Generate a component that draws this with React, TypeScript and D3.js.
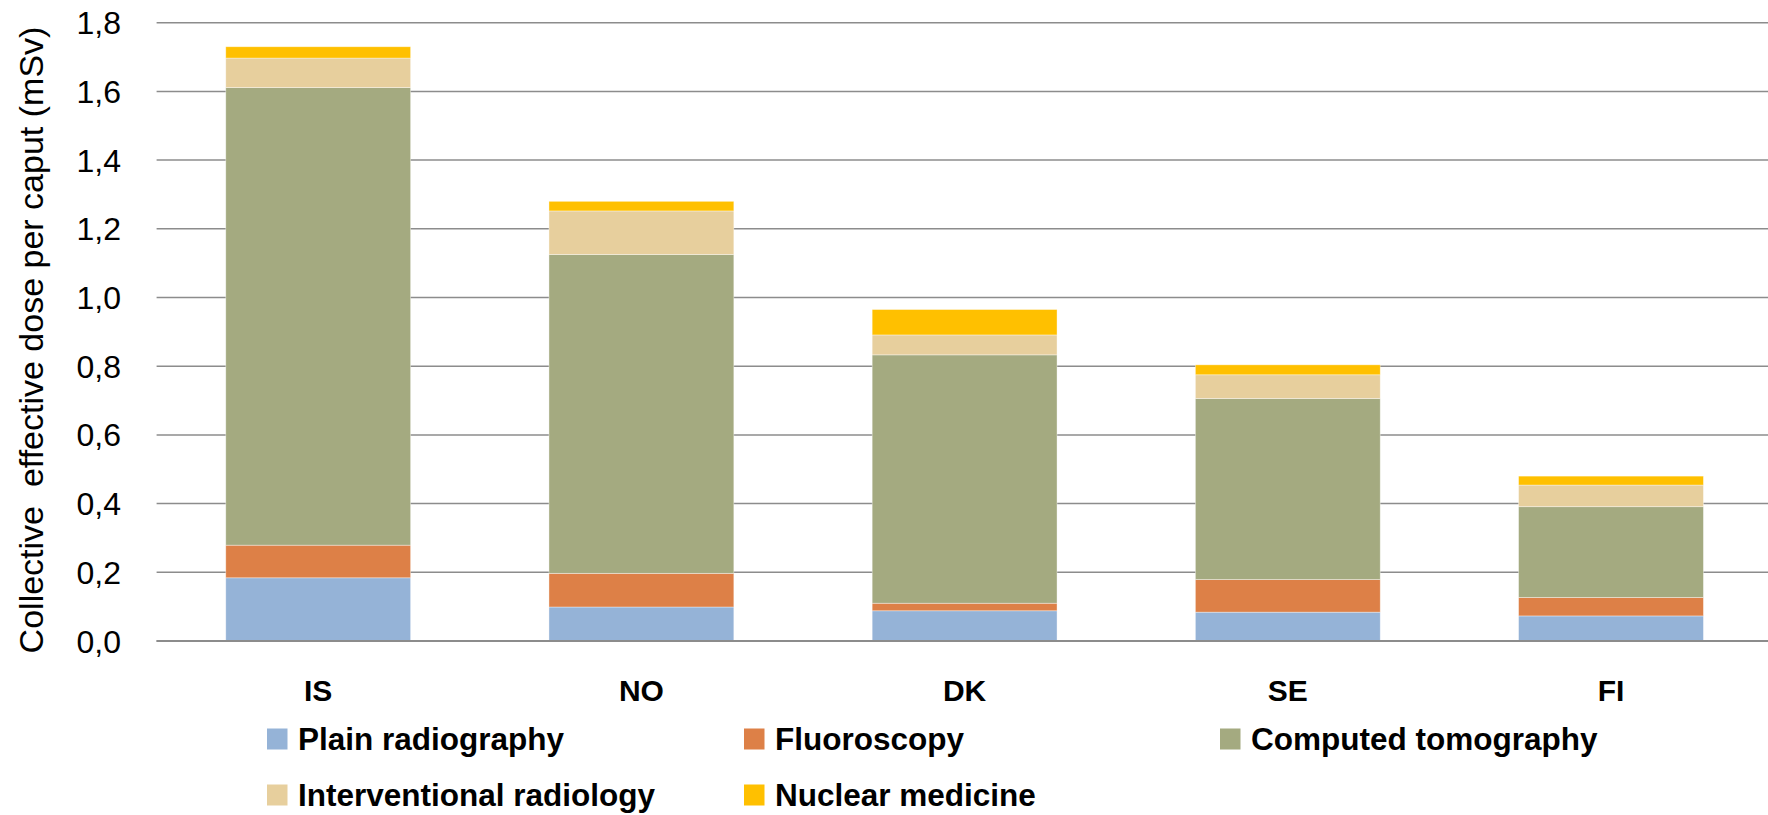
import React from "react";
import * as d3 from "d3";

const countries = ["IS", "NO", "DK", "SE", "FI"];
const seriesNames = [
  "Plain radiography",
  "Fluoroscopy",
  "Computed tomography",
  "Interventional radiology",
  "Nuclear medicine",
];
const plainRadiography = [0.184, 0.099, 0.088, 0.084, 0.073];
const fluoroscopy = [0.095, 0.098, 0.022, 0.095, 0.054];
const computedTomography = [1.332, 0.928, 0.723, 0.527, 0.264];
const interventionalRadiology = [0.086, 0.127, 0.058, 0.069, 0.063];
const nuclearMedicine = [0.033, 0.028, 0.074, 0.029, 0.026];
const yTicks = [0, 0.2, 0.4, 0.6, 0.8, 1.0, 1.2, 1.4, 1.6, 1.8];
const yTitle = "Collective  effective dose per caput (mSv)";

const colors = ["#95B3D7", "#DD8047", "#A4AA80", "#E7CF9D", "#FFC000"];

export default function App() {
  const W = 1768;
  const H = 815;
  const x = d3
    .scaleBand<string>()
    .domain(countries)
    .range([156.6, 1772.6])
    .paddingInner(0.428)
    .paddingOuter(0.214);
  const y = d3.scaleLinear().domain([0, 1.8]).range([641, 22.7]);

  const rows = countries.map((c, i) => ({
    country: c,
    s0: plainRadiography[i],
    s1: fluoroscopy[i],
    s2: computedTomography[i],
    s3: interventionalRadiology[i],
    s4: nuclearMedicine[i],
  }));
  const keys = ["s0", "s1", "s2", "s3", "s4"];
  const stacked = d3.stack<any>().keys(keys)(rows);
  const fmt = (v: number) => v.toFixed(1).replace(".", ",");

  const legendItems = [
    { name: seriesNames[0], color: colors[0], sx: 267, row: 0 },
    { name: seriesNames[1], color: colors[1], sx: 744, row: 0 },
    { name: seriesNames[2], color: colors[2], sx: 1220, row: 0 },
    { name: seriesNames[3], color: colors[3], sx: 267, row: 1 },
    { name: seriesNames[4], color: colors[4], sx: 744, row: 1 },
  ];
  const rowBase = [749.5, 805.5];

  return (
    <svg
      width={W}
      height={H}
      style={{ position: "absolute", left: 0, top: 0, background: "#fff" }}
      fontFamily="'Liberation Sans', Arial, sans-serif"
    >
      <rect x={0} y={0} width={W} height={H} fill="#fff" />
      {yTicks.map((t) => (
        <line
          key={"g" + t}
          x1={156.6}
          x2={W}
          y1={y(t)}
          y2={y(t)}
          stroke="#8C8C8C"
          strokeWidth={t === 0 ? 2 : 1.5}
        />
      ))}
      {stacked.map((layer, li) => (
        <g key={"l" + li} fill={colors[li]}>
          {layer.map((d: any, i: number) => (
            <rect
              key={i}
              x={x(countries[i])!}
              width={x.bandwidth()}
              y={y(d[1])}
              height={y(d[0]) - y(d[1])}
              stroke="#ffffff"
              strokeOpacity={0.5}
              strokeWidth={0.75}
            />
          ))}
        </g>
      ))}
      <line x1={156.6} x2={W} y1={y(0)} y2={y(0)} stroke="#8C8C8C" strokeWidth={2} />
      {yTicks.map((t) => (
        <text
          key={"t" + t}
          x={121}
          y={y(t) + 11.5}
          textAnchor="end"
          fontSize={32}
          fill="#000"
        >
          {fmt(t)}
        </text>
      ))}
      <text
        transform={`translate(43, ${340}) rotate(-90)`}
        textAnchor="middle"
        fontSize={34}
        fill="#000"
        style={{ whiteSpace: "pre" }}
        xmlSpace="preserve"
      >
        {yTitle}
      </text>
      {countries.map((c) => (
        <text
          key={"x" + c}
          x={x(c)! + x.bandwidth() / 2}
          y={701}
          textAnchor="middle"
          fontSize={30}
          fontWeight="bold"
          fill="#000"
        >
          {c}
        </text>
      ))}
      {legendItems.map((it) => (
        <g key={it.name}>
          <rect
            x={it.sx}
            y={rowBase[it.row] - 21}
            width={20.5}
            height={21}
            fill={it.color}
          />
          <text
            x={it.sx + 31}
            y={rowBase[it.row]}
            fontSize={31.5}
            fontWeight="bold"
            fill="#000"
          >
            {it.name}
          </text>
        </g>
      ))}
    </svg>
  );
}
